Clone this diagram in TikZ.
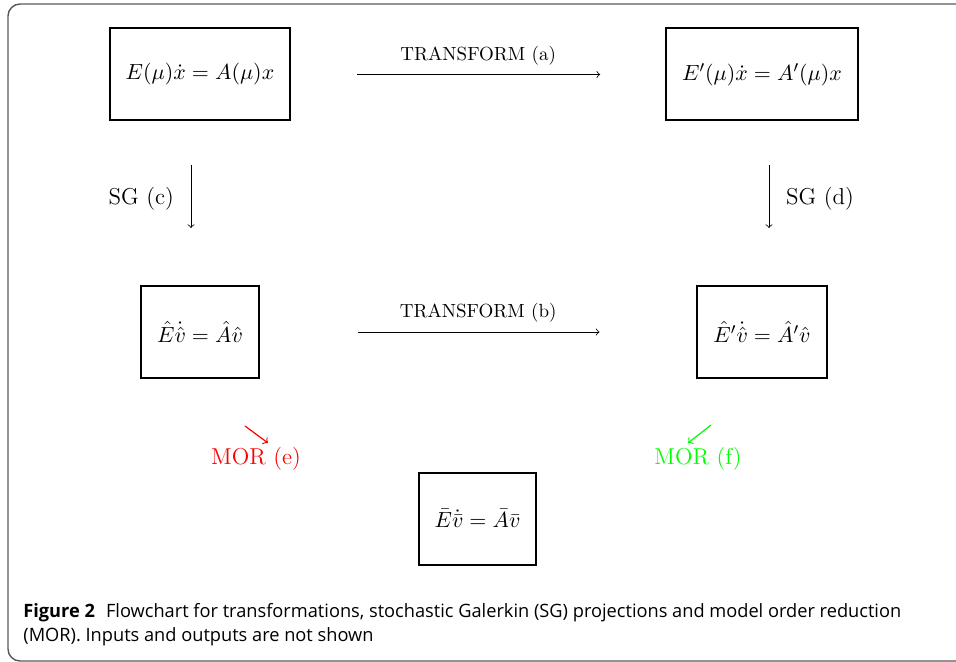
\documentclass[tikz,border=0pt]{standalone}
\usepackage{fontspec}
\newfontfamily\captionfont[FakeStretch=0.99]{Open Sans}
\usetikzlibrary{arrows}
\tikzstyle{system} = [
    rectangle,
    minimum height=46pt,
    inner xsep=8pt,
    draw=black,
    line width=1pt,
    font=\fontsize{11}{14}\selectfont
]
\tikzstyle{arrowtext} = [
    font=\fontsize{11.5}{14}\selectfont
]
\tikzstyle{transformtext} = [
    font=\fontsize{9.5}{12}\selectfont
]
\tikzstyle{frame} = [
    draw=black!65,
    line width=0.7pt,
    rounded corners=6pt
]
\tikzstyle{arrow} = [->]
\tikzstyle{morarrow} = [semithick,->]

\begin{document}
\begin{tikzpicture}[x=0.5pt, y=-0.5pt, node distance=128.75pt]
\useasboundingbox (0,0) rectangle (956,662);

\draw [frame] (990,4) -- (8,4) -- (8,661) -- (990,661);

\node (full) [system] at (200,74.5) {$E(\mu)\dot{x} = A(\mu)x$};

\node (fullT) [system, right of=full, node distance=281pt]
{$E'(\mu)\dot{x} = A'(\mu)x$};

\node (sg) [system, below of=full]
{$\hat{E}\dot{\hat{v}} = \hat{A}\hat{v}$};

\node (sgT) [system, below of=fullT]
{$\hat{E}'\dot{\hat{v}} = \hat{A}'\hat{v}$};

\node (mor) [system] at (477.5,518.5)
{$\bar{E}\dot{\bar{v}} = \bar{A}\bar{v}$};

\node (morE) [arrowtext, text=red] at (256,459) {MOR (e)};
\node (morF) [arrowtext, text=green] at (698,459) {MOR (f)};

\coordinate (eTail) at (245,426);
\coordinate (eHead) at (268,443);
\coordinate (fTail) at (711,425);
\coordinate (fHead) at (688,443);

\draw [arrow, shorten <=33pt, shorten >=32.5pt] (full) -- (fullT)
node [transformtext, midway, yshift=9.5pt] {TRANSFORM (a)};
\draw [arrow, shorten <=49pt, shorten >=48.5pt] (sg) -- (sgT)
node [transformtext, midway, yshift=9.5pt] {TRANSFORM (b)};
\draw [arrow, shorten <=22pt, shorten >=28.5pt]
([xshift=-4.5pt]full.south) -- ([xshift=-4.5pt]sg.north)
node [arrowtext, pos=0.47, left=5pt] {SG (c)};
\draw [arrow, shorten <=22pt, shorten >=28.5pt]
([xshift=3.5pt]fullT.south) -- ([xshift=3.5pt]sgT.north)
node [arrowtext, pos=0.47, right=5pt] {SG (d)};
\draw [morarrow, red] (eTail) -- (eHead);
\draw [morarrow, green] (fTail) -- (fHead);

\node (caption) [anchor=base west, align=left, inner sep=0pt,
font=\captionfont\fontsize{9.2}{12}\selectfont] at (23,641)
{\textbf{Figure 2}\hspace{0.6em}Flowchart for transformations, stochastic Galerkin (SG) projections and model order reduction\\
(MOR). Inputs and outputs are not shown};

\end{tikzpicture}
\end{document}
